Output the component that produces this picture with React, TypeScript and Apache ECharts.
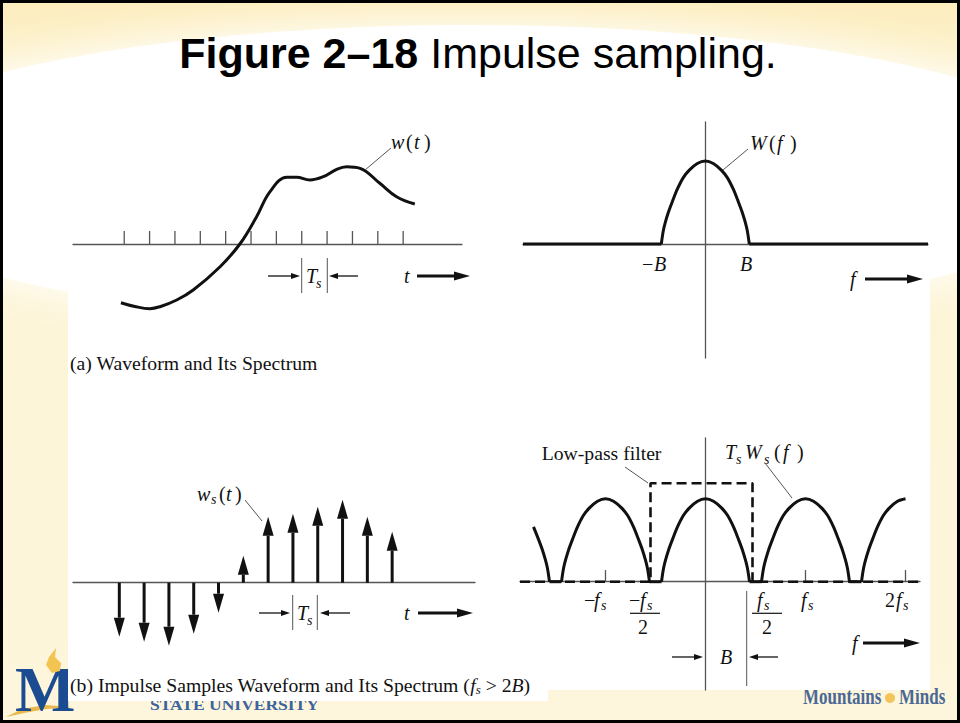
import React, { useEffect, useRef } from 'react';
import * as echarts from 'echarts';

const SERIF = '"Liberation Serif", "Times New Roman", Times, serif';
const SANS = '"Liberation Sans", Arial, Helvetica, sans-serif';
const INK = '#111111';
const AXIS = '#555555';

// (a) continuous waveform w(t); t counted in sampling periods
const waveT = [0.87, 1.42, 2.01, 2.41, 3.07, 3.72, 4.78, 5.56, 6.22, 6.75, 7.41, 7.8, 8.32, 8.85, 9.38, 9.77, 10.3, 11.08, 11.74, 12.46];
const waveW = [-5.87, -6.25, -6.47, -6.27, -5.6, -4.6, -2.27, 0, 2.73, 5.23, 6.67, 6.67, 6.4, 6.73, 7.47, 7.73, 7.57, 6.07, 4.73, 4.0];
const sampleTicks = [1, 2, 3, 4, 5, 6, 7, 8, 9, 10, 11, 12];

// (b) impulse samples w_s(t)
const sampleIndex = [1, 2, 3, 4, 5, 6, 7, 8, 9, 10, 11, 12];
const sampleValue = [-5.4, -5.9, -6.3, -5.1, -3.0, 2.7, 6.6, 6.9, 7.6, 8.3, 6.6, 5.1];

// baseband spectrum W(f); f in units of the sampling rate fs
const bandOffset = [-0.44, -0.42, -0.4, -0.37, -0.33, -0.28, -0.22, -0.16, -0.08, 0, 0.08, 0.16, 0.22, 0.28, 0.33, 0.37, 0.4, 0.42, 0.44];
const bandLevel = [0, 0.16, 0.26, 0.38, 0.51, 0.66, 0.8, 0.89, 0.97, 1.0, 0.97, 0.89, 0.8, 0.66, 0.51, 0.38, 0.26, 0.16, 0];
const bandEdge = 0.44; // B
const spectrumRange = [-1.823, 2.227];

// sampled spectrum Ts·Ws(f): replicas at multiples of fs
const replicaCenter = [-2, -1, 0, 1, 2];
const replicaFrom = [0.28, -1, -1, -1, -1];
const replicaTo = [1, 1, 1, 1, 0];
const sampledRange = [-1.855, 2.145];
const harmonicTicks = [-1, 1, 2];

// ideal low-pass filter
const filterF = [-1.855, -0.55, -0.55, 0.47, 0.47, 2.145];
const filterH = [0, 0, 1.186, 1.186, 0, 0];

const zip = (a: number[], b: number[]) => a.map((v, i) => [v, b[i]]);

const txt = (text: string, x: number, y: number, o: any = {}, z = 100, extra: any = {}) => ({
  type: 'text',
  x,
  y,
  z,
  ...extra,
  style: {
    text,
    fontFamily: SERIF,
    fontSize: 20,
    fontStyle: 'italic',
    fill: INK,
    align: 'left',
    verticalAlign: 'middle',
    ...o,
  },
});
const up = { fontStyle: 'normal' };
const sub = { fontSize: 14 };

const seg = (x1: number, y1: number, x2: number, y2: number, w = 1, color = AXIS, z = 100) => ({
  type: 'line',
  z,
  shape: { x1, y1, x2, y2 },
  style: { stroke: color, lineWidth: w },
});

const arrowH = (x1: number, x2: number, y: number, w: number, head: number, half: number) => {
  const dir = Math.sign(x2 - x1);
  const neck = x2 - dir * head;
  return [
    seg(x1, y, neck, y, w, INK),
    {
      type: 'polygon',
      z: 100,
      shape: { points: [[x2, y], [neck, y - half], [neck, y + half]] },
      style: { fill: INK },
    },
  ];
};
const thin = (x1: number, x2: number, y: number) => arrowH(x1, x2, y, 1.3, 9, 3);
const thick = (x1: number, x2: number, y: number) => arrowH(x1, x2, y, 3, 16, 4.5);

const axisBase = (gridIndex: number, min: number, max: number, showLine: boolean) => ({
  type: 'value',
  gridIndex,
  min,
  max,
  axisLine: { show: showLine, onZero: true, lineStyle: { color: AXIS, width: 1.3 } },
  axisTick: { show: false },
  axisLabel: { show: false },
  splitLine: { show: false },
});

const vTick = (height: number) => (params: any, api: any) => {
  const a = api.coord([api.value(0), 0]);
  const b = api.coord([api.value(0), height]);
  return { type: 'line', shape: { x1: a[0], y1: a[1], x2: b[0], y2: b[1] }, style: { stroke: AXIS, lineWidth: 1.3 } };
};

const flatRender = (level: number) => (params: any, api: any) => {
  const a = api.coord([api.value(0), level]);
  const b = api.coord([api.value(1), level]);
  return { type: 'line', shape: { x1: a[0], y1: a[1], x2: b[0], y2: b[1] }, style: { stroke: INK, lineWidth: 3 } };
};

function buildOption() {
  const band = zip(bandOffset, bandLevel);

  const replicaSeries = replicaCenter.map((c, i) => ({
    type: 'line',
    name: 'TsWs(f)',
    xAxisIndex: 3,
    yAxisIndex: 3,
    data: band.filter(([o]) => o >= replicaFrom[i] && o <= replicaTo[i]).map(([o, v]) => [c + o, v]),
    smooth: 0.3,
    symbol: 'none',
    lineStyle: { color: INK, width: 3 },
    z: 5,
  }));

  const gaps: number[][] = [];
  for (let i = 0; i < replicaCenter.length - 1; i++) {
    gaps.push([replicaCenter[i] + bandEdge, replicaCenter[i + 1] - bandEdge]);
  }

  const brand = '#4a6896';
  const brandText = { fontStyle: 'normal', fontWeight: 'bold', fontSize: 17, fill: brand };
  const graphic: any[] = [
    // slide background
    {
      type: 'rect',
      z: -100,
      shape: { x: 0, y: 0, width: 960, height: 723 },
      style: {
        fill: new echarts.graphic.LinearGradient(0, 0, 0, 1, [
          { offset: 0, color: '#fcedbd' },
          { offset: 0.12, color: '#fdf4d4' },
          { offset: 1, color: '#fdf6dc' },
        ]),
      },
    },
    {
      type: 'ellipse',
      z: -90,
      shape: { cx: 470, cy: 175, rx: 640, ry: 150 },
      style: { fill: '#ffffff', shadowBlur: 45, shadowColor: '#ffffff' },
    },
    // footer branding
    {
      type: 'polygon',
      z: -80,
      shape: { points: [[6, 717], [22, 709], [45, 705], [72, 707], [46, 709], [24, 713]] },
      style: { fill: '#e8b84a' },
    },
    txt('M', 15, 689, { fontStyle: 'normal', fontWeight: 'bold', fontSize: 64, fill: '#1b4c91' }, -80),
    {
      type: 'polygon',
      z: -79,
      shape: { points: [[52, 673], [46, 665], [49, 657], [56, 648], [55, 657], [61, 663], [60, 671]] },
      style: { fill: '#f3c452' },
    },
    txt('STATE UNIVERSITY', 150, 705, { fontStyle: 'normal', fontWeight: 'bold', fontSize: 14, fill: '#3b64a0' }, -80, { scaleX: 1.25 }),
    txt('Mountains', 803, 696, brandText, -80, { scaleY: 1.3 }),
    { type: 'circle', z: -80, shape: { cx: 890, cy: 698, r: 5 }, style: { fill: '#f2c45a' } },
    txt('Minds', 899, 696, brandText, -80, { scaleY: 1.3 }),
    // figure sheet
    { type: 'rect', z: -50, shape: { x: 68, y: 104, width: 862, height: 586 }, style: { fill: '#ffffff' } },
    { type: 'rect', z: -50, shape: { x: 68, y: 689, width: 480, height: 12 }, style: { fill: '#ffffff' } },
    // slide frame
    { type: 'rect', z: 200, shape: { x: 1.5, y: 1.5, width: 957, height: 720 }, style: { fill: 'none', stroke: '#000', lineWidth: 3 } },
    // title
    {
      type: 'text',
      x: 478,
      y: 53,
      z: 100,
      style: {
        text: '{b|Figure 2–18} {r|Impulse sampling.}',
        fontFamily: SANS,
        fontSize: 43,
        fill: '#000',
        align: 'center',
        verticalAlign: 'middle',
        rich: {
          b: { fontFamily: SANS, fontSize: 43, fontWeight: 'bold', fill: '#000' },
          r: { fontFamily: SANS, fontSize: 43, fill: '#000' },
        },
      },
    },

    // (a) waveform annotations
    seg(365, 170, 391, 148),
    txt('w', 391, 142), txt('(', 406, 142, up), txt('t', 414, 142), txt(')', 424, 142, up),
    seg(301.7, 258, 301.7, 293), seg(327.3, 258, 327.3, 293),
    ...thin(268, 300, 276), ...thin(358, 329, 276),
    txt('T', 306, 276), txt('s', 316, 283, sub),
    txt('t', 404, 276), ...thick(417, 470, 276),
    txt('(a) Waveform and Its Spectrum', 70, 363, { ...up, fontSize: 19.7 }),

    // (a) spectrum annotations
    seg(723, 170, 748, 149),
    txt('W', 750, 143), txt('(', 769, 143, up), txt('f', 777, 143), txt(')', 790, 143, up),
    txt('−', 642, 264, up), txt('B', 654, 264), txt('B', 740, 264),
    txt('f', 850, 279), ...thick(865, 923, 279),

    // (b) sampled waveform annotations
    seg(245, 500, 262, 521),
    txt('w', 197, 494), txt('s', 211, 499, sub), txt('(', 219, 494, up), txt('t', 226, 494), txt(')', 235, 494, up),
    seg(292.7, 595, 292.7, 630), seg(317.3, 595, 317.3, 630),
    ...thin(259, 290, 613), ...thin(350, 320, 613),
    txt('T', 297, 613), txt('s', 307, 620, sub),
    txt('t', 404, 613), ...thick(418, 473, 613),
    {
      type: 'text',
      x: 70,
      y: 685,
      z: 100,
      style: {
        text: '{n|(b) Impulse Samples Waveform and Its Spectrum (}{i|f}{s|s}{n| > 2}{i|B}{n|)}',
        fontFamily: SERIF,
        fontSize: 19.7,
        fill: INK,
        align: 'left',
        verticalAlign: 'middle',
        rich: {
          n: { fontFamily: SERIF, fontSize: 19.7, fill: INK },
          i: { fontFamily: SERIF, fontSize: 19.7, fontStyle: 'italic', fill: INK },
          s: { fontFamily: SERIF, fontSize: 13, fontStyle: 'italic', fill: INK, padding: [9, 0, 0, 0] },
        },
      },
    },

    // (b) spectrum annotations
    txt('Low-pass filter', 541.7, 453, { ...up, fontSize: 19.7 }),
    seg(625, 467, 648, 483),
    txt('T', 725, 452), txt('s', 736, 459, sub), txt('W', 745, 452), txt('s', 764, 459, sub),
    txt('(', 774, 452, up), txt('f', 783, 452), txt(')', 797, 452, up),
    seg(765, 463, 792, 498),
    txt('−', 584, 600, up), txt('f', 594, 600), txt('s', 601, 605, sub),
    txt('−', 629, 600, up), txt('f', 640, 600), txt('s', 647, 605, sub),
    seg(630, 613.3, 660, 613.3, 1.2, INK), txt('2', 638, 627, up),
    txt('f', 757, 600), txt('s', 764, 605, sub),
    seg(752, 613.3, 782, 613.3, 1.2, INK), txt('2', 762, 627, up),
    txt('f', 801, 600), txt('s', 808, 605, sub),
    txt('2', 885, 600, up), txt('f', 896, 600), txt('s', 903, 605, sub),
    txt('f', 852, 643), ...thick(863, 920, 643),
    seg(746.7, 591, 746.7, 686),
    ...thin(672, 703, 657), ...thin(778, 749, 657),
    txt('B', 720, 657),
  ];

  return {
    animation: false,
    backgroundColor: 'transparent',
    grid: [
      { left: 73, top: 140, width: 389, height: 180, outerBoundsMode: 'none' },
      { left: 73, top: 480, width: 402, height: 180, outerBoundsMode: 'none' },
      { left: 523, top: 122, width: 405, height: 236, outerBoundsMode: 'none' },
      { left: 520, top: 438, width: 400, height: 252, outerBoundsMode: 'none' },
    ],
    xAxis: [
      axisBase(0, -1.02, 14.32, true),
      axisBase(1, -0.867, 15.34, true),
      axisBase(2, spectrumRange[0], spectrumRange[1], true),
      axisBase(3, sampledRange[0], sampledRange[1], true),
    ],
    yAxis: [
      axisBase(0, -7.6, 10.4, false),
      axisBase(1, -7.73, 10.27, false),
      axisBase(2, -1.3735, 1.47, true),
      axisBase(3, -1.3048, 1.7313, true),
    ],
    graphic,
    series: [
      {
        type: 'custom',
        name: 'sampling instants',
        xAxisIndex: 0,
        yAxisIndex: 0,
        data: sampleTicks.map((t) => [t]),
        renderItem: vTick(1.3),
        z: 3,
      },
      {
        type: 'line',
        name: 'w(t)',
        xAxisIndex: 0,
        yAxisIndex: 0,
        data: zip(waveT, waveW),
        smooth: 0.4,
        symbol: 'none',
        lineStyle: { color: INK, width: 3 },
        z: 5,
      },
      {
        type: 'custom',
        name: 'ws(t)',
        xAxisIndex: 1,
        yAxisIndex: 1,
        data: zip(sampleIndex, sampleValue),
        renderItem: (params: any, api: any) => {
          const base = api.coord([api.value(0), 0]);
          const tip = api.coord([api.value(0), api.value(1)]);
          const dir = tip[1] < base[1] ? -1 : 1;
          const head = 19;
          const half = 5.5;
          const neck = tip[1] - dir * head;
          return {
            type: 'group',
            children: [
              { type: 'line', shape: { x1: base[0], y1: base[1], x2: base[0], y2: neck }, style: { stroke: INK, lineWidth: 3 } },
              { type: 'polygon', shape: { points: [[tip[0], tip[1]], [tip[0] - half, neck], [tip[0] + half, neck]] }, style: { fill: INK } },
            ],
          };
        },
        z: 5,
      },
      {
        type: 'custom',
        name: 'W(f) zero',
        xAxisIndex: 2,
        yAxisIndex: 2,
        data: [
          [spectrumRange[0], -bandEdge],
          [bandEdge, spectrumRange[1]],
        ],
        renderItem: flatRender(0),
        z: 5,
      },
      {
        type: 'line',
        name: 'W(f)',
        xAxisIndex: 2,
        yAxisIndex: 2,
        data: band,
        smooth: 0.3,
        symbol: 'none',
        lineStyle: { color: INK, width: 3 },
        z: 5,
      },
      {
        type: 'line',
        name: 'Low-pass filter',
        xAxisIndex: 3,
        yAxisIndex: 3,
        data: zip(filterF, filterH),
        symbol: 'none',
        lineStyle: { color: INK, width: 2.6, type: [10, 5] },
        z: 4,
      },
      {
        type: 'custom',
        name: 'harmonics',
        xAxisIndex: 3,
        yAxisIndex: 3,
        data: harmonicTicks.map((f) => [f]),
        renderItem: vTick(0.14),
        z: 3,
      },
      {
        type: 'custom',
        name: 'TsWs(f) zero',
        xAxisIndex: 3,
        yAxisIndex: 3,
        data: gaps,
        renderItem: flatRender(0),
        z: 5,
      },
      ...replicaSeries,
    ],
  };
}

export default function App() {
  const ref = useRef<HTMLDivElement>(null);
  useEffect(() => {
    document.body.style.margin = '0';
    if (!ref.current) return;
    const chart = echarts.init(ref.current, undefined, { renderer: 'svg' });
    chart.setOption(buildOption() as any);
    return () => chart.dispose();
  }, []);
  return <div ref={ref} style={{ width: 960, height: 723 }} />;
}
